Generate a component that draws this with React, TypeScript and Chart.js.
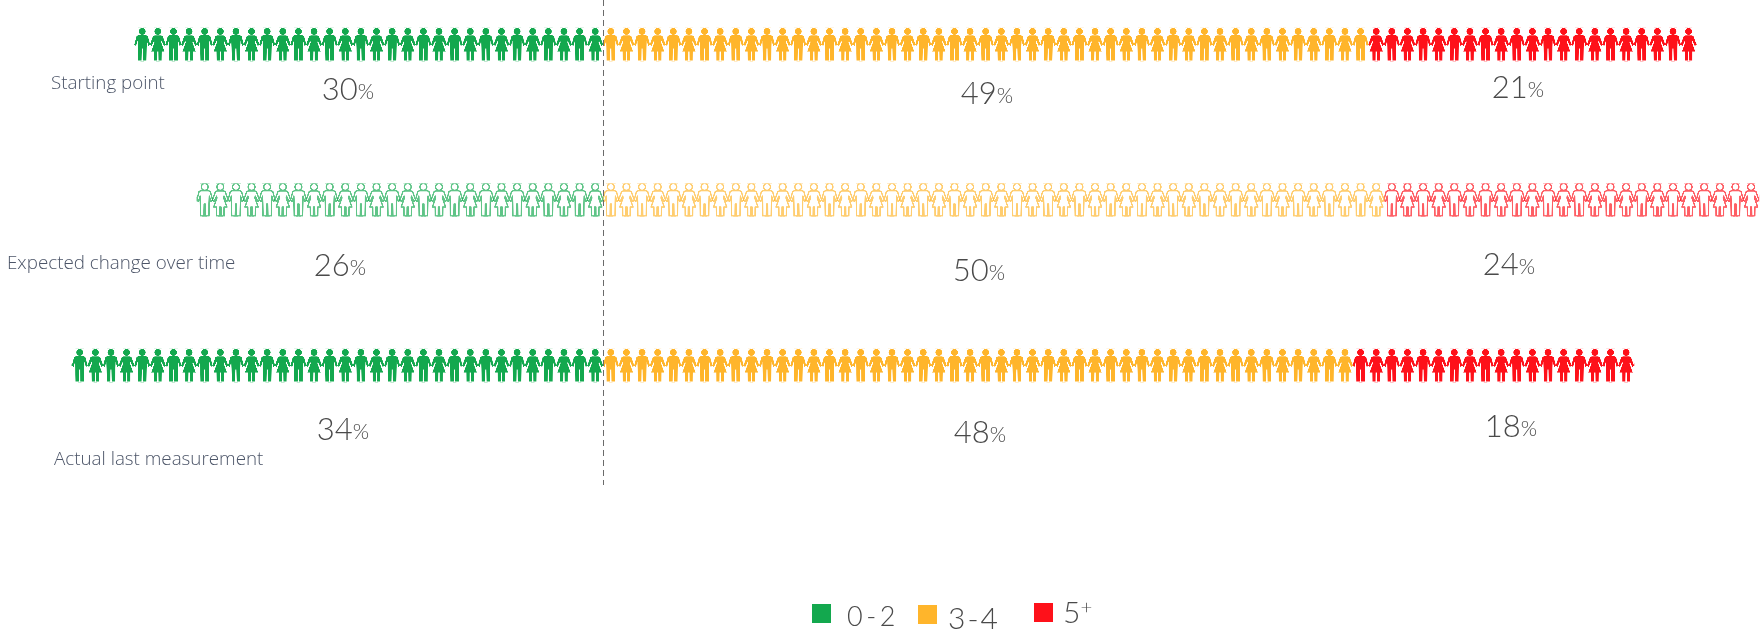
import { useEffect, useRef } from "react";
import { Chart, registerables } from "chart.js";

Chart.register(...registerables);

// Share of people per group, one person symbol per percentage point.
const categories = ["Starting point", "Expected change over time", "Actual last measurement"];
const lowShare = [30, 26, 34];
const midShare = [49, 50, 48];
const highShare = [21, 24, 18];
const groupLabels = ["0-2", "3-4", "5+"];
const groupColors = ["#13a84e", "#ffb52b", "#fe111a"];
const outlinedRows = [false, true, false];

// Layout of the free-standing annotations, in canvas pixels.
const rowNudge = [0, -5, 0];
const categoryLabelLeft = [51, 7, 54];
const categoryLabelY = [84, 264, 460];
const shareLabelX = [
  [348, 987, 1518],
  [340, 979, 1509],
  [343, 980, 1511],
];
const shareLabelY = [
  [90, 94, 88],
  [266, 271, 265],
  [430, 433, 427],
];
const legendLayout = [
  { box: 812, boxY: 604, text: 847, textY: 617, size: 27, spacing: 3.5 },
  { box: 918, boxY: 605, text: 948, textY: 619, size: 30, spacing: 2 },
  { box: 1034, boxY: 603, text: 1063, textY: 613, size: 30, spacing: 0 },
];

const WIDTH = 1762;
const HEIGHT = 631;
const ZERO_X = 603;
const PX_PER_POINT = 15.62;
const FIGURE_H = 33;
const SS = 4;

// One person symbol in a 15.6 x 33 cell, centred on cx.
function tracePerson(c: CanvasRenderingContext2D, cx: number, woman: boolean) {
  const body: [number, number][] = woman
    ? [
        [-3, 7.4], [3, 7.4], [4.8, 8], [7.9, 16.6], [6.2, 18], [3.7, 12.6],
        [3.4, 14.5], [6.6, 23.5], [3.8, 23.5], [3.7, 32.5], [0.7, 32.5], [0.6, 23.5],
        [-0.6, 23.5], [-0.7, 32.5], [-3.7, 32.5], [-3.8, 23.5], [-6.6, 23.5], [-3.4, 14.5],
        [-3.7, 12.6], [-6.2, 18], [-7.9, 16.6], [-4.8, 8],
      ]
    : [
        [-3.8, 7.2], [3.8, 7.2], [5.6, 8], [7.9, 16.6], [6.2, 18], [4.6, 12.6],
        [4.4, 19.5], [4.2, 32.5], [0.7, 32.5], [0.5, 20.5], [-0.5, 20.5], [-0.7, 32.5],
        [-4.2, 32.5], [-4.4, 19.5], [-4.6, 12.6], [-6.2, 18], [-7.9, 16.6], [-5.6, 8],
      ];
  c.beginPath();
  body.forEach(([x, y], i) => (i ? c.lineTo(cx + x, y) : c.moveTo(cx + x, y)));
  c.closePath();
  c.moveTo(cx + 3.4, 3.4);
  c.arc(cx, 3.4, 3.4, 0, Math.PI * 2);
}

// Builds a man-and-woman tile, filled or drawn as a tinted outline.
function makeTile(color: string, outlined: boolean) {
  const tile = document.createElement("canvas");
  const cellW = PX_PER_POINT;
  tile.width = Math.round(cellW * 2 * SS);
  tile.height = FIGURE_H * SS;
  const c = tile.getContext("2d")!;
  c.scale(tile.width / (cellW * 2), SS);
  [false, true].forEach((woman, i) => {
    const cx = cellW * (i + 0.5);
    c.save();
    tracePerson(c, cx, woman);
    if (outlined) {
      c.fillStyle = "#ffffff";
      c.fill();
      c.strokeStyle = color;
      c.globalAlpha = 0.68;
      c.lineWidth = 1.4;
      c.lineJoin = "round";
      c.stroke();
    } else {
      c.fillStyle = color;
      c.fill();
    }
    c.restore();
  });
  return tile;
}

function personFill(group: number) {
  return (ctx: any) => {
    const chart = ctx.chart;
    const row = ctx.dataIndex;
    const tile = makeTile(groupColors[group], outlinedRows[row]);
    const pattern = chart.ctx.createPattern(tile, "repeat")!;
    const x0 = chart.scales.x.getPixelForValue(0);
    const y0 = chart.scales.y.getPixelForValue(row) + rowNudge[row] - FIGURE_H / 2;
    pattern.setTransform(
      new DOMMatrix()
        .translate(x0, y0)
        .scale((PX_PER_POINT * 2) / tile.width, FIGURE_H / tile.height)
    );
    return pattern;
  };
}

const annotations = {
  id: "annotations",
  afterDatasetsUpdate(chart: any) {
    chart.data.datasets.forEach((_: any, d: number) => {
      chart.getDatasetMeta(d).data.forEach((bar: any, row: number) => {
        bar.y += rowNudge[row];
      });
    });
  },
  afterDatasetsDraw(chart: any) {
    const c: any = chart.ctx;
    const zero = Math.round(chart.scales.x.getPixelForValue(0)) + 0.5;
    c.save();

    // Dashed reference line at the split between the low group and the rest.
    c.strokeStyle = "#6a6a6a";
    c.lineWidth = 1;
    c.setLineDash([6, 4]);
    c.beginPath();
    c.moveTo(zero, 0);
    c.lineTo(zero, 485);
    c.stroke();
    c.setLineDash([]);

    // Row captions.
    c.textBaseline = "middle";
    c.textAlign = "left";
    c.fillStyle = "#4c5568";
    c.font = '300 18.8px "Open Sans"';
    categories.forEach((name, i) => c.fillText(name, categoryLabelLeft[i], categoryLabelY[i]));

    // Percentage labels under each segment.
    c.fillStyle = "#4a4a4a";
    chart.data.datasets.forEach((ds: any, d: number) => {
      ds.data.forEach((v: number, row: number) => {
        const big = String(Math.abs(v));
        c.font = "300 31px Lato";
        const w1 = c.measureText(big).width;
        c.font = "300 21px Lato";
        const w2 = c.measureText("%").width;
        const left = shareLabelX[row][d] - (w1 + w2) / 2;
        const y = shareLabelY[row][d];
        c.font = "300 31px Lato";
        c.fillText(big, left, y);
        c.font = "300 21px Lato";
        c.fillText("%", left + w1, y + 2);
      });
    });

    // Legend swatches and labels.
    chart.data.datasets.forEach((ds: any, d: number) => {
      const item = legendLayout[d];
      c.fillStyle = groupColors[d];
      c.fillRect(item.box, item.boxY, 19, 19);
      c.fillStyle = "#4a4a4a";
      c.font = `300 ${item.size}px Lato`;
      c.letterSpacing = `${item.spacing}px`;
      const label: string = ds.label;
      const plus = label.endsWith("+");
      const main = plus ? label.slice(0, -1) : label;
      c.fillText(main, item.text, item.textY);
      if (plus) {
        const w = c.measureText(main).width;
        c.font = `300 ${item.size * 0.68}px Lato`;
        c.fillText("+", item.text + w, item.textY - 6);
      }
      c.letterSpacing = "0px";
    });
    c.restore();
  },
};

export default function App() {
  const ref = useRef<HTMLCanvasElement>(null);
  useEffect(() => {
    const shares = [lowShare.map((v) => -v), midShare, highShare];
    const chart = new Chart(ref.current!, {
      type: "bar",
      data: {
        labels: categories,
        datasets: shares.map((data, g) => ({
          label: groupLabels[g],
          data,
          backgroundColor: personFill(g),
          borderWidth: 0,
          barThickness: FIGURE_H,
          clip: false as any,
        })),
      },
      options: {
        indexAxis: "y",
        animation: false,
        responsive: false,
        layout: { padding: { top: 44.5, bottom: HEIGHT - 365.5, left: 0, right: 0 } },
        scales: {
          x: {
            stacked: true,
            display: false,
            min: -ZERO_X / PX_PER_POINT,
            max: (WIDTH - ZERO_X) / PX_PER_POINT,
          },
          y: { stacked: true, display: false, offset: false },
        },
        plugins: { legend: { display: false }, tooltip: { enabled: false } },
      },
      plugins: [annotations],
    });
    return () => chart.destroy();
  }, []);
  return (
    <div style={{ position: "absolute", left: 0, top: 0, width: WIDTH, height: HEIGHT, background: "#fff" }}>
      <canvas ref={ref} width={WIDTH} height={HEIGHT} style={{ display: "block" }} />
    </div>
  );
}
